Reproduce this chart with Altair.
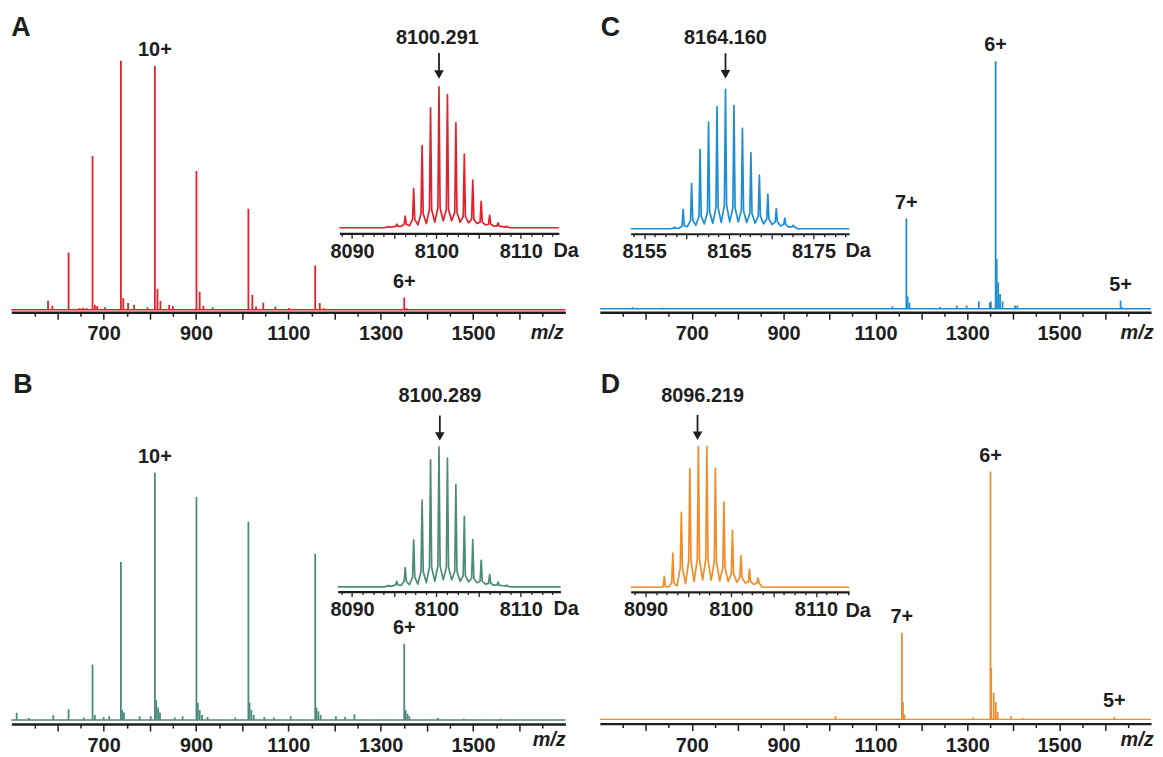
import altair as alt
import pandas as pd

W, H = 1155, 749
FONT = "Liberation Sans"
INK = "#1e1e1e"
FS = 20

COL_A = "#e3202b"
COL_B = "#4a8b79"
COL_C = "#1b8ed6"
COL_D = "#f28c28"

# ---------------- main spectra (m/z, relative intensity %) ----------------
a_mz = [579.6, 589, 624.1, 648, 655, 663, 676.0, 681, 686, 703, 737.4, 742.6, 753, 766, 795,
        811.0, 816.6, 823, 842, 850, 901.0, 908, 916, 936, 1013.5, 1022, 1030, 1045.8, 1072,
        1101, 1158.2, 1168, 1177, 1351.0, 1356]
a_int = [3.6, 1.6, 23.0, 0.7, 0.8, 0.7, 61.8, 2.0, 1.5, 1.0, 100.0, 4.7, 2.7, 2.0, 1.0,
         98.0, 8.4, 3.6, 2.0, 1.5, 55.8, 7.3, 1.6, 1.0, 40.6, 6.0, 1.3, 2.9, 1.3,
         0.7, 17.8, 2.7, 0.6, 4.9, 0.7]

b_mz = [511.6, 538, 591, 624.1, 657, 676.0, 681, 700, 712, 737.4, 740, 744, 778, 802,
        811.0, 814, 818, 822, 854, 871, 901.0, 904, 908, 913, 925, 985, 1013.5, 1016, 1020,
        1025, 1048, 1069, 1105, 1158.2, 1161, 1165, 1170, 1203, 1223, 1243, 1351.0, 1354,
        1358, 1362, 1424, 1480, 1560]
b_int = [2.9, 0.8, 2.0, 4.3, 1.0, 22.4, 2.0, 1.2, 1.5, 63.9, 4.0, 3.0, 1.5, 1.5,
         100.0, 8.0, 5.0, 3.0, 1.0, 1.5, 90.2, 7.0, 4.0, 2.0, 1.2, 1.0, 80.2, 7.0, 4.0,
         2.0, 1.2, 1.0, 1.5, 67.2, 5.0, 3.5, 2.0, 1.5, 1.2, 2.3, 30.8, 4.0,
         2.5, 1.5, 0.8, 0.5, 0.5]

c_mz = [572, 636, 1137, 1167.3, 1170, 1174, 1241, 1277, 1298.5, 1325, 1349, 1351.3,
        1361.7, 1364, 1367.3, 1371.3, 1376.7, 1404, 1409, 1633.8, 1637]
c_int = [0.6, 0.5, 1.0, 36.5, 5.0, 2.5, 0.8, 1.3, 1.3, 3.0, 2.5, 3.0,
         100.0, 20.0, 10.7, 6.0, 3.0, 1.3, 1.3, 3.3, 0.6]

d_mz = [1013, 1157.6, 1160, 1163, 1313, 1350.4, 1352, 1357.5, 1362, 1366, 1395, 1422, 1620.2]
d_int = [1.3, 35.0, 7.0, 2.0, 0.8, 100.0, 20.7, 10.7, 7.0, 3.0, 1.3, 0.6, 1.0]

# charge-state labels
a_lab_mz, a_lab_int, a_lab_txt = [811.0, 1351.0], [98.0, 4.9], ["10+", "6+"]
b_lab_mz, b_lab_int, b_lab_txt = [811.0, 1351.0], [100.0, 30.8], ["10+", "6+"]
c_lab_mz, c_lab_int, c_lab_txt = [1167.3, 1361.7, 1633.8], [36.5, 100.0, 3.3], ["7+", "6+", "5+"]
d_lab_mz, d_lab_int, d_lab_txt = [1157.6, 1350.4, 1620.2], [35.0, 100.0, 1.0], ["7+", "6+", "5+"]

# ---------------- deconvoluted insets (mass Da, relative intensity %) ----------------
ia_mass = [8094.3, 8095.3, 8096.3, 8097.3, 8098.3, 8099.3, 8100.3, 8101.3, 8102.3, 8103.3,
           8104.3, 8105.3, 8106.3, 8107.3, 8108.3]
ia_int = [1.0, 2.5, 8.2, 27.7, 58.2, 85.0, 100.0, 94.4, 74.4, 52.3, 33.8, 18.8, 8.9, 3.5, 1.2]
ia_foot = [0.5, 1.0, 2.5, 6.0, 10.0, 13.0, 14.0, 13.0, 11.0, 8.0, 6.0, 4.0, 2.5, 1.2, 0.5]
ia_valley = [0.6, 1.0, 1.5, 2.0, 3.0, 4.0, 5.0, 5.0, 4.0, 3.5, 3.0, 2.0, 1.2, 0.8]

ib_mass = ia_mass
ib_int = [1.0, 4.0, 13.7, 33.6, 61.9, 90.8, 100.0, 92.0, 73.0, 50.4, 33.8, 18.9, 8.7, 3.5, 1.2]
ib_foot = [0.5, 1.5, 4.0, 7.0, 11.0, 14.0, 15.0, 14.0, 11.0, 8.0, 6.0, 4.0, 2.5, 1.2, 0.5]
ib_valley = [0.6, 1.0, 1.5, 2.0, 3.0, 4.0, 5.0, 5.0, 4.0, 3.5, 3.0, 2.0, 1.2, 0.8]

ic_mass = [8158.6, 8159.6, 8160.6, 8161.6, 8162.6, 8163.6, 8164.6, 8165.6, 8166.6, 8167.6,
           8168.6, 8169.6, 8170.6, 8171.6, 8172.6]
ic_int = [1.2, 13.8, 32.5, 57.0, 76.5, 87.6, 100.0, 88.4, 72.0, 54.6, 38.5, 24.9, 14.5, 7.6, 2.6]
ic_foot = [0.5, 2.0, 6.0, 9.0, 12.0, 15.0, 17.0, 15.0, 13.0, 11.0, 9.0, 7.0, 5.0, 3.0, 1.5]
ic_valley = [0.3, 1.5, 2.5, 3.5, 4.0, 4.5, 5.0, 5.0, 4.5, 4.0, 3.5, 3.0, 2.0, 1.2]

id_mass = [8092.2, 8093.2, 8094.2, 8095.2, 8096.2, 8097.2, 8098.2, 8099.2, 8100.2, 8101.2,
           8102.2, 8103.2]
id_int = [7.8, 24.2, 53.2, 84.5, 100.0, 100.0, 84.7, 60.5, 40.5, 22.4, 12.7, 6.6]
id_foot = [0.5, 3.0, 14.0, 19.0, 20.0, 20.0, 18.0, 14.0, 10.0, 7.0, 4.0, 3.0]
id_valley = [0.2, 1.0, 2.5, 4.0, 5.0, 5.0, 4.5, 4.0, 3.5, 3.0, 2.0]

# inset annotations: arrow mass, arrow tip / top (%), label mass, label level (%), text
ann_a = dict(x=8100.3, tip=105.2, top=124.0, lx=8100.1, ly=134.3, txt="8100.291")
ann_b = dict(x=8100.4, tip=104.0, top=122.4, lx=8100.4, ly=136.0, txt="8100.289")
ann_c = dict(x=8164.6, tip=107.3, top=125.9, lx=8164.6, ly=136.5, txt="8164.160")
ann_d = dict(x=8096.1, tip=104.2, top=122.5, lx=8096.7, ly=136.2, txt="8096.219")

main_ticks = list(range(550, 1700, 50))
main_labels = [700, 900, 1100, 1300, 1500]


def sc(dom, rng):
    return alt.Scale(domain=dom, range=rng, nice=False, zero=False)


def main_axis(offset):
    return alt.Axis(
        orient="bottom", offset=offset, values=main_ticks, format="d",
        labelExpr="indexof(%s, datum.value) >= 0 ? datum.label : ''" % str(main_labels),
        tickSize={"condition": {"test": "datum.value % 100 === 0", "value": 7}, "value": 4},
        tickWidth=1.5, tickColor=INK, domainColor=INK, domainWidth=2.5,
        labelFont=FONT, labelFontSize=FS, labelFontWeight="bold", labelColor=INK,
        labelPadding=5, labelOverlap=False, labelFlush=False, labelBound=False,
        title=None, grid=False)


def inset_axis(offset, ticks, label_vals):
    return alt.Axis(
        orient="bottom", offset=offset, values=ticks, format="d",
        labelExpr="indexof(%s, datum.value) >= 0 ? datum.label : ''" % str(label_vals),
        tickSize={"condition": {"test": "datum.value % 5 === 0", "value": 5}, "value": 3},
        tickWidth=1.3, tickColor=INK, domainColor=INK, domainWidth=2.2,
        labelFont=FONT, labelFontSize=FS, labelFontWeight="bold", labelColor=INK,
        labelPadding=3, labelOverlap=False, labelFlush=False, labelBound=False,
        title=None, grid=False)


def main_layers(mz, inten, lab_mz, lab_int, lab_txt, color, xdom, xrng, yrng, axis_y):
    xs = sc(xdom, xrng)
    ys = sc([0, 100], yrng)
    base = pd.DataFrame({"x": [xdom[0]], "x2": [xdom[1]], "y": [0]})
    l0 = alt.Chart(base).mark_rule(color=color, strokeWidth=1.4).encode(
        x=alt.X("x:Q", scale=xs, axis=main_axis(axis_y - H)), x2="x2:Q",
        y=alt.Y("y:Q", scale=ys, axis=None))
    sticks = pd.DataFrame({"mz": mz, "inten": inten, "b": [0] * len(mz)})
    l1 = alt.Chart(sticks).mark_rule(color=color, strokeWidth=1.8).encode(
        x=alt.X("mz:Q", scale=xs, axis=None),
        y=alt.Y("inten:Q", scale=ys, axis=None), y2="b:Q")
    labs = pd.DataFrame({"mz": lab_mz, "inten": lab_int, "t": lab_txt})
    l2 = alt.Chart(labs).mark_text(font=FONT, fontSize=FS, fontWeight="bold", color=INK,
                                   dy=-16, baseline="middle").encode(
        x=alt.X("mz:Q", scale=xs, axis=None),
        y=alt.Y("inten:Q", scale=ys, axis=None), text="t:N")
    return [l0, l1, l2]


def inset_layers(mass, inten, foot, valley, color, xdom, xrng, yrng, axis_y, ticks,
                 label_vals, ann):
    xs = sc(xdom, xrng)
    ys = sc([0, 100], yrng)
    px, py = [xdom[0], mass[0] - 0.5], [0, 0]
    for i, (m, h, f) in enumerate(zip(mass, inten, foot)):
        if i > 0:
            px.append(m - 0.5)
            py.append(valley[i - 1])
        px += [m - 0.13, m, m + 0.13]
        py += [f, h, f]
    px += [mass[-1] + 0.5, xdom[1]]
    py += [0, 0]
    line = pd.DataFrame({"m": px, "v": py})
    l0 = alt.Chart(line).mark_line(color=color, strokeWidth=1.7, strokeJoin="round").encode(
        x=alt.X("m:Q", scale=xs, axis=inset_axis(axis_y - H, ticks, label_vals)),
        y=alt.Y("v:Q", scale=ys, axis=None))
    arr = pd.DataFrame({"x": [ann["x"]], "y": [ann["tip"] + 4], "y2": [ann["top"]]})
    l1 = alt.Chart(arr).mark_rule(color=INK, strokeWidth=1.8).encode(
        x=alt.X("x:Q", scale=xs, axis=None),
        y=alt.Y("y:Q", scale=ys, axis=None), y2="y2:Q")
    head = pd.DataFrame({"x": [ann["x"]], "y": [ann["tip"] + 3.5]})
    l2 = alt.Chart(head).mark_point(shape="triangle-down", filled=True, size=95, color=INK,
                                    opacity=1).encode(
        x=alt.X("x:Q", scale=xs, axis=None),
        y=alt.Y("y:Q", scale=ys, axis=None))
    lab = pd.DataFrame({"x": [ann["lx"]], "y": [ann["ly"]], "t": [ann["txt"]]})
    l3 = alt.Chart(lab).mark_text(font=FONT, fontSize=FS, fontWeight="bold", color=INK,
                                  baseline="middle").encode(
        x=alt.X("x:Q", scale=xs, axis=None),
        y=alt.Y("y:Q", scale=ys, axis=None), text="t:N")
    return [l0, l1, l2, l3]


def text_layer(txt, x, y, size=FS, style="normal", align="center"):
    df = pd.DataFrame({"t": [txt]})
    return alt.Chart(df).mark_text(font=FONT, fontSize=size, fontWeight="bold",
                                   fontStyle=style, color=INK, align=align,
                                   baseline="middle").encode(
        x=alt.value(x), y=alt.value(y), text="t:N")


ticks_ab = [8088.75 + 1.25 * k for k in range(21)]
ticks_c = [8153.75 + 1.25 * k for k in range(21)]

layers = []
layers += main_layers(a_mz, a_int, a_lab_mz, a_lab_int, a_lab_txt, COL_A,
                      [500, 1700], [3.3, 561.3], [301.3, 50.6], 303.7)
layers += main_layers(b_mz, b_int, b_lab_mz, b_lab_int, b_lab_txt, COL_B,
                      [500, 1700], [3.3, 561.3], [714.3, 465.3], 718.5)
layers += main_layers(c_mz, c_int, c_lab_mz, c_lab_int, c_lab_txt, COL_C,
                      [500, 1700], [596, 1151], [300.3, 51.0], 303.7)
layers += main_layers(d_mz, d_int, d_lab_mz, d_lab_int, d_lab_txt, COL_D,
                      [500, 1700], [596, 1151], [713.7, 464.3], 718.0)

layers += inset_layers(ia_mass, ia_int, ia_foot, ia_valley, COL_A, [8088.5, 8114.5],
                       [333.7, 554.7], [218.7, 76.7], 224.3, ticks_ab, [8090, 8100, 8110], ann_a)
layers += inset_layers(ib_mass, ib_int, ib_foot, ib_valley, COL_B, [8088.3, 8114.7],
                       [332.0, 556.4], [580.3, 439.3], 585.0, ticks_ab, [8090, 8100, 8110], ann_b)
layers += inset_layers(ic_mass, ic_int, ic_foot, ic_valley, COL_C, [8153.4, 8179.2],
                       [627.0, 847.0], [219.7, 79.3], 224.7, ticks_c, [8155, 8165, 8175], ann_c)
layers += inset_layers(id_mass, id_int, id_foot, id_valley, COL_D, [8088.25, 8113.9],
                       [627.0, 847.0], [580.7, 439.0], 585.3, ticks_ab, [8090, 8100, 8110], ann_d)

for t, x, y in [("A", 13, 17.5), ("B", 15, 377), ("C", 606.5, 18), ("D", 606.5, 377)]:
    layers.append(text_layer(t, x, y, size=27))
for x, y in [(562, 242), (562, 603), (856, 242), (856, 604.5)]:
    layers.append(text_layer("Da", x, y))
for x, y in [(543, 325), (545, 734.5), (1137, 325), (1137, 734.5)]:
    layers.append(text_layer("m/z", x, y, style="italic"))

chart = alt.layer(*layers).resolve_scale(x="independent", y="independent").resolve_axis(
    x="independent", y="independent").properties(
    width=W, height=H, autosize=alt.AutoSizeParams(type="none"), padding=0
).configure_view(stroke=None)

chart.save("out.html", embed_options={"renderer": "svg", "actions": False})
